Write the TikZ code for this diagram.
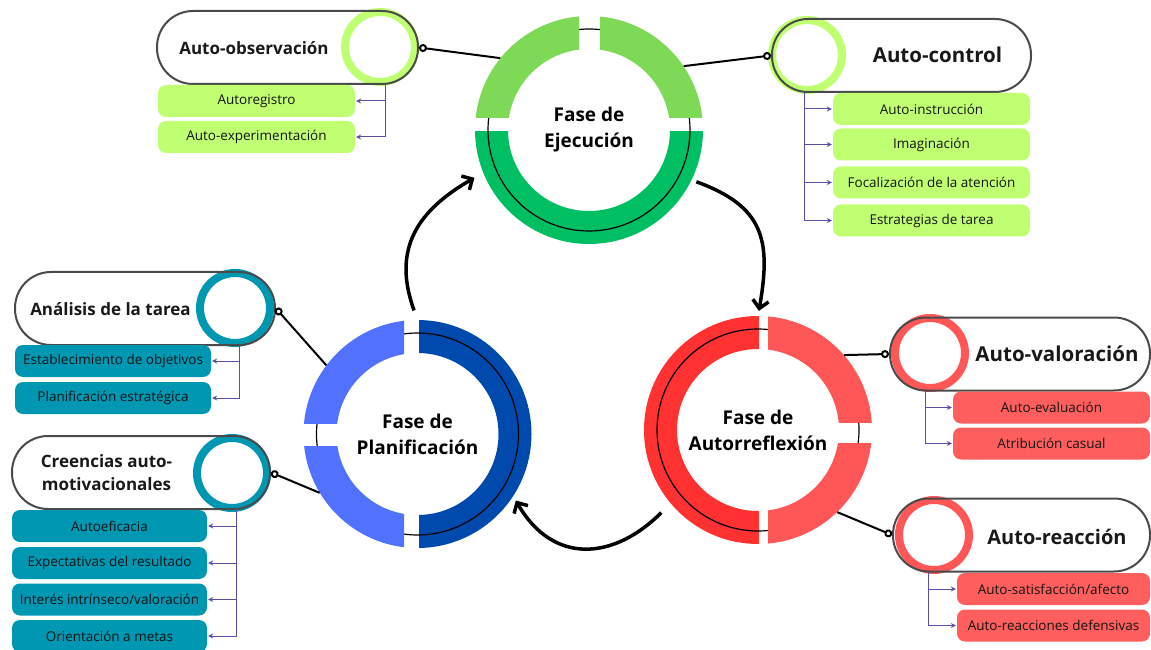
\documentclass[tikz,border=0pt]{standalone}
\usepackage{fontspec}
\setmainfont{Open Sans}
\usetikzlibrary{arrows.meta}

\definecolor{ejlight}{HTML}{7ED957}
\definecolor{ejdark}{HTML}{00BF63}
\definecolor{pllight}{HTML}{5271FF}
\definecolor{pldark}{HTML}{004AAD}
\definecolor{aulight}{HTML}{FF5757}
\definecolor{audark}{HTML}{FF3131}
\definecolor{subgreen}{HTML}{C1FF72}
\definecolor{subteal}{HTML}{0097B2}
\definecolor{subred}{HTML}{FF5E5E}
\definecolor{pillgray}{HTML}{4A4A4A}
\definecolor{branchc}{HTML}{5B4EA8}

\tikzset{
  pill/.style={draw=pillgray, line width=2pt, rounded corners=36pt, minimum height=73pt, inner sep=0pt},
  ring/.style={circle, draw=#1, line width=8pt, minimum size=70pt, inner sep=0pt},
  head/.style={font=\bfseries\fontsize{20}{24}\selectfont, text=black!90, align=center},
  item/.style={fill=#1, rounded corners=8pt, minimum width=197pt, minimum height=32pt, inner sep=0pt, font=\fontsize{13.5}{16}\selectfont, text=black!92},
  phase/.style={circle, minimum size=228pt, inner sep=0pt, font=\bfseries\fontsize{19}{26}\selectfont, align=center},
  branch/.style={draw=branchc, line width=1pt, shorten >=1pt, -{Stealth[length=5pt,width=5pt]}},
  link/.style={line width=2pt, -{Circle[length=8pt,width=8pt,fill=white]}},
  cyc/.style={line width=3.5pt, -{Straight Barb[length=8pt,width=16pt]}}
}

% one coloured piece of a phase ring: centre, colour, clip corners
\newcommand{\ringpart}[4]{%
  \begin{scope}
    \clip (#3) rectangle (#4);
    \fill[#2, even odd rule] (#1) circle (114pt) (#1) circle (81pt);
  \end{scope}}

\begin{document}
\begin{tikzpicture}[x=1pt,y=1pt]
\useasboundingbox (0,0) rectangle (1151,649);

% phases
\node[phase] (ejec) at (589,519) {Fase de\\Ejecución};
\node[phase] (plan) at (417.5,215) {Fase de\\Planificación};
\node[phase] (auto) at (758,219) {Fase de\\Autorreflexión};

\ringpart{ejec}{ejdark}{470,400}{710,517}
\draw[line width=1.2pt] (ejec) circle (101pt);
\ringpart{ejec}{ejlight}{470,531}{579,640}
\ringpart{ejec}{ejlight}{600,531}{710,640}

\ringpart{plan}{pldark}{419,95}{540,335}
\draw[line width=1.2pt] (plan) circle (101pt);
\ringpart{plan}{pllight}{295,226}{404,335}
\ringpart{plan}{pllight}{295,95}{404,203}

\ringpart{auto}{audark}{640,100}{759,340}
\draw[line width=1.2pt] (auto) circle (101pt);
\ringpart{auto}{aulight}{768,227}{880,340}
\ringpart{auto}{aulight}{768,100}{880,206}

% cycle
\draw[cyc, shorten <=10pt, shorten >=10pt] (plan.north) to[out=110,in=210,looseness=1.2] (ejec.202);
\draw[cyc, shorten <=5pt, shorten >=5pt] (ejec.-26) to[out=-20,in=80,looseness=1.3] (auto.north);
\draw[cyc, shorten <=13pt, shorten >=5pt] (auto.220) to[out=225,in=-60,looseness=1.3] (plan.-33);

% sub-processes
\node[ring=subgreen] (obsring) at (380,602) {};
\node[pill, minimum width=261pt] (obs) at (287.5,601.5) {};
\node[head, font=\bfseries\fontsize{17}{20}\selectfont] (obstxt) at (254,601) {Auto-observación};

\node[ring=subgreen] (ctrlring) at (807,594) {};
\node[pill, minimum width=259pt] (ctrl) at (901.5,593.5) {};
\node[head, font=\bfseries\fontsize{20.5}{24}\selectfont] (ctrltxt) at (937.5,594) {Auto-control};

\node[ring=subteal] (anaring) at (235,341) {};
\node[pill, minimum width=260pt] (ana) at (145,340.5) {};
\node[head, font=\bfseries\fontsize{17}{20}\selectfont] (anatxt) at (110.5,340) {Análisis de la tarea};

\node[ring=subteal] (crering) at (232,176) {};
\node[pill, minimum width=258pt] (cre) at (141,176.5) {};
\node[head, font=\bfseries\fontsize{17}{23}\selectfont] (cretxt) at (106.5,176) {Creencias auto-\\motivacionales};

\node[ring=aulight] (valring) at (930,296) {};
\node[pill, minimum width=260pt] (val) at (1020,295) {};
\node[head, font=\bfseries\fontsize{20.5}{24}\selectfont] (valtxt) at (1057,295) {Auto-valoración};

\node[ring=aulight] (rearing) at (934,114) {};
\node[pill, minimum width=257pt] (rea) at (1021.5,114) {};
\node[head] (reatxt) at (1057,112) {Auto-reacción};

\draw[link] (ejec.141) -- (obs.east);
\draw[link] (ejec.34) -- (ctrl.west);
\draw[link] (plan.143) -- (ana.east);
\draw[link] (plan.211) -- (cre.east);
\draw[link] (auto.41) -- (val.west);
\draw[link] (auto.-46) -- (rea.west);

% items
\node[item=subgreen] (autoreg) at (256.5,548) {Autoregistro};
\node[item=subgreen] (autoexp) at (256.5,512) {Auto-experimentación};
\coordinate (obsroot) at (385,565);
\draw[branch] (obsroot) |- (autoreg.east);
\draw[branch] (obsroot) |- (autoexp.east);

\node[item=subgreen] (autoins) at (931.5,540) {Auto-instrucción};
\node[item=subgreen] (imag) at (931.5,504.5) {Imaginación};
\node[item=subgreen] (focal) at (931.5,466.5) {Focalización de la atención};
\node[item=subgreen] (estrat) at (931.5,428.5) {Estrategias de tarea};
\coordinate (ctrlroot) at (804,557);
\draw[branch] (ctrlroot) |- (autoins.west);
\draw[branch] (ctrlroot) |- (imag.west);
\draw[branch] (ctrlroot) |- (focal.west);
\draw[branch] (ctrlroot) |- (estrat.west);

\node[item=subteal, minimum width=196pt] (establ) at (113,288) {Establecimiento de objetivos};
\node[item=subteal, minimum width=196pt] (planest) at (113,251) {Planificación estratégica};
\coordinate (anaroot) at (239,304);
\draw[branch] (anaroot) |- (establ.east);
\draw[branch] (anaroot) |- (planest.east);

\node[item=subteal, minimum width=195pt] (autoef) at (109.5,123) {Autoeficacia};
\node[item=subteal, minimum width=195pt] (expect) at (109.5,86) {Expectativas del resultado};
\node[item=subteal, minimum width=195pt] (interes) at (109.5,49.5) {Interés intrínseco/valoración};
\node[item=subteal, minimum width=195pt] (orient) at (109.5,13) {Orientación a metas};
\coordinate (creroot) at (236,140);
\draw[branch] (creroot) |- (autoef.east);
\draw[branch] (creroot) |- (expect.east);
\draw[branch] (creroot) |- (interes.east);
\draw[branch] (creroot) |- (orient.east);

\node[item=subred] (autoeval) at (1051.5,241.5) {Auto-evaluación};
\node[item=subred] (atrib) at (1051.5,205.5) {Atribución casual};
\coordinate (valroot) at (925,258);
\draw[branch] (valroot) |- (autoeval.west);
\draw[branch] (valroot) |- (atrib.west);

\node[item=subred, minimum width=193pt] (autosat) at (1053.5,60) {Auto-satisfacción/afecto};
\node[item=subred, minimum width=193pt] (autodef) at (1053.5,23.5) {Auto-reacciones defensivas};
\coordinate (rearoot) at (928,77);
\draw[branch] (rearoot) |- (autosat.west);
\draw[branch] (rearoot) |- (autodef.west);
\end{tikzpicture}
\end{document}
